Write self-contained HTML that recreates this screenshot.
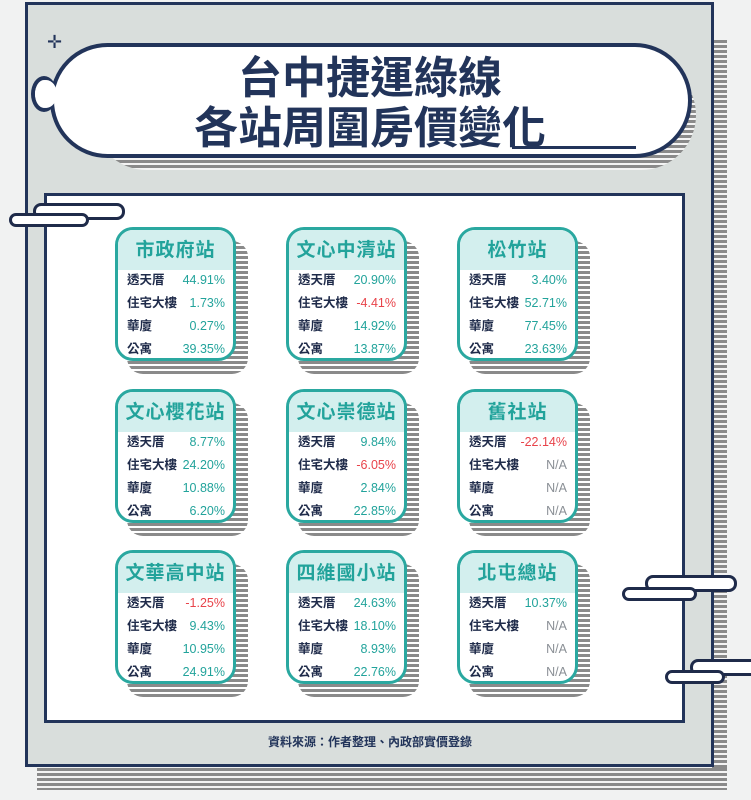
<!DOCTYPE html>
<html><head><meta charset="utf-8"><style>
*{margin:0;padding:0;box-sizing:border-box}
body{width:751px;height:800px;background:#f1f2f2;position:relative;overflow:hidden;font-family:"Liberation Sans","Noto Sans CJK TC",sans-serif}
.stripes{position:absolute;background:repeating-linear-gradient(180deg,#8a8a8a 0 3px,#f4f4f4 3px 5px)}
.abs{position:absolute}
.card{position:absolute;width:121px;height:134px;border:3px solid #2aa8a0;border-radius:18px;background:#fff;overflow:hidden}
.card .hd{height:40px;background:#d3efee;color:#22a39b;font-weight:bold;font-size:19px;text-align:center;line-height:42px;letter-spacing:1px}
.row{position:absolute;left:9px;right:8px;height:20px;font-size:12.5px;line-height:20px}
.row .l{position:absolute;left:0;font-weight:bold;color:#1f2b4a}
.row .v{position:absolute;right:0;color:#22a39b}
.row .v.neg{color:#e8434a}.row .v.na{color:#8a8f95}
.shadow{position:absolute;background:repeating-linear-gradient(180deg,#8a8a8a 0 3px,#fff 3px 5px);border-radius:0 16px 16px 16px}
.cloud{position:absolute;background:#fff;border:3px solid #1f2b4a;border-radius:8px}
</style></head><body>
<div class="stripes" style="left:712px;top:40px;width:15px;height:745px"></div>
<div class="stripes" style="left:37px;top:768px;width:690px;height:22px"></div>
<div class="abs" style="left:25px;top:2px;width:689px;height:765px;background:#d9dedc;border:3px solid #22345a"></div>
<div class="stripes" style="left:92px;top:60px;width:604px;height:110px;border-radius:55px"></div>
<div class="abs" style="left:31px;top:76px;width:26px;height:36px;background:#fff;border:4px solid #22345a;border-radius:50%"></div>
<div class="abs" style="left:50px;top:43px;width:642px;height:115px;background:#fff;border:4px solid #22345a;border-radius:58px"></div>
<div class="abs" style="left:35px;top:80px;width:22px;height:28px;background:#fff;border-radius:50%"></div>
<div class="abs" style="left:140px;top:49px;width:460px;text-align:center;font-size:44px;font-weight:bold;line-height:50px;color:#22345a;font-family:'Noto Sans CJK TC',sans-serif">台中捷運綠線<br>各站周圍房價變化</div>
<div class="abs" style="left:512px;top:146px;width:124px;height:3px;background:#22345a"></div>
<div class="abs" style="left:47px;top:32px;font-size:18px;color:#22345a">✛</div>
<div class="abs" style="left:44px;top:193px;width:641px;height:530px;background:#fff;border:3px solid #22345a"></div>
<div class="cloud" style="left:33px;top:203px;width:92px;height:17px"></div>
<div class="cloud" style="left:9px;top:213px;width:80px;height:14px"></div>
<div class="cloud" style="left:645px;top:575px;width:92px;height:17px"></div>
<div class="cloud" style="left:622px;top:587px;width:75px;height:14px"></div>
<div class="cloud" style="left:690px;top:659px;width:70px;height:17px"></div>
<div class="cloud" style="left:665px;top:670px;width:60px;height:14px"></div>
<div class="abs" style="left:200px;top:733px;width:340px;text-align:center;font-size:12px;font-weight:bold;color:#22345a">資料來源：作者整理、內政部實價登錄</div>
<div id="cards"></div>
<script>
const stations=["市政府站","文心中清站","松竹站","文心櫻花站","文心崇德站","舊社站","文華高中站","四維國小站","北屯總站"];
const types=["透天厝","住宅大樓","華廈","公寓"];
const values=[
[44.91,1.73,0.27,39.35],
[20.90,-4.41,14.92,13.87],
[3.40,52.71,77.45,23.63],
[8.77,24.20,10.88,6.20],
[9.84,-6.05,2.84,22.85],
[-22.14,null,null,null],
[-1.25,9.43,10.95,24.91],
[24.63,18.10,8.93,22.76],
[10.37,null,null,null]];
const colX=[115,286,457],rowY=[227,389,550];
const root=document.getElementById('cards');
stations.forEach((s,i)=>{
 const x=colX[i%3],y=rowY[Math.floor(i/3)];
 const sh=document.createElement('div');sh.className='shadow';
 
 
 sh.style.cssText=`left:${x+12}px;top:${y+14}px;width:121px;height:133px`;
 root.appendChild(sh);
 const c=document.createElement('div');c.className='card';
 
 
 c.style.left=x+'px';c.style.top=y+'px';
 let h=`<div class="hd">${s}</div>`;
 types.forEach((t,j)=>{
  const v=values[i][j];
  const txt=v===null?'N/A':v.toFixed(2)+'%';
  const cls=v===null?'na':(v<0?'neg':'');
  h+=`<div class="row" style="top:${40+j*23}px"><span class="l">${t}</span><span class="v ${cls}">${txt}</span></div>`;
 });
 c.innerHTML=h;root.appendChild(c);
});
</script>
</body></html>
